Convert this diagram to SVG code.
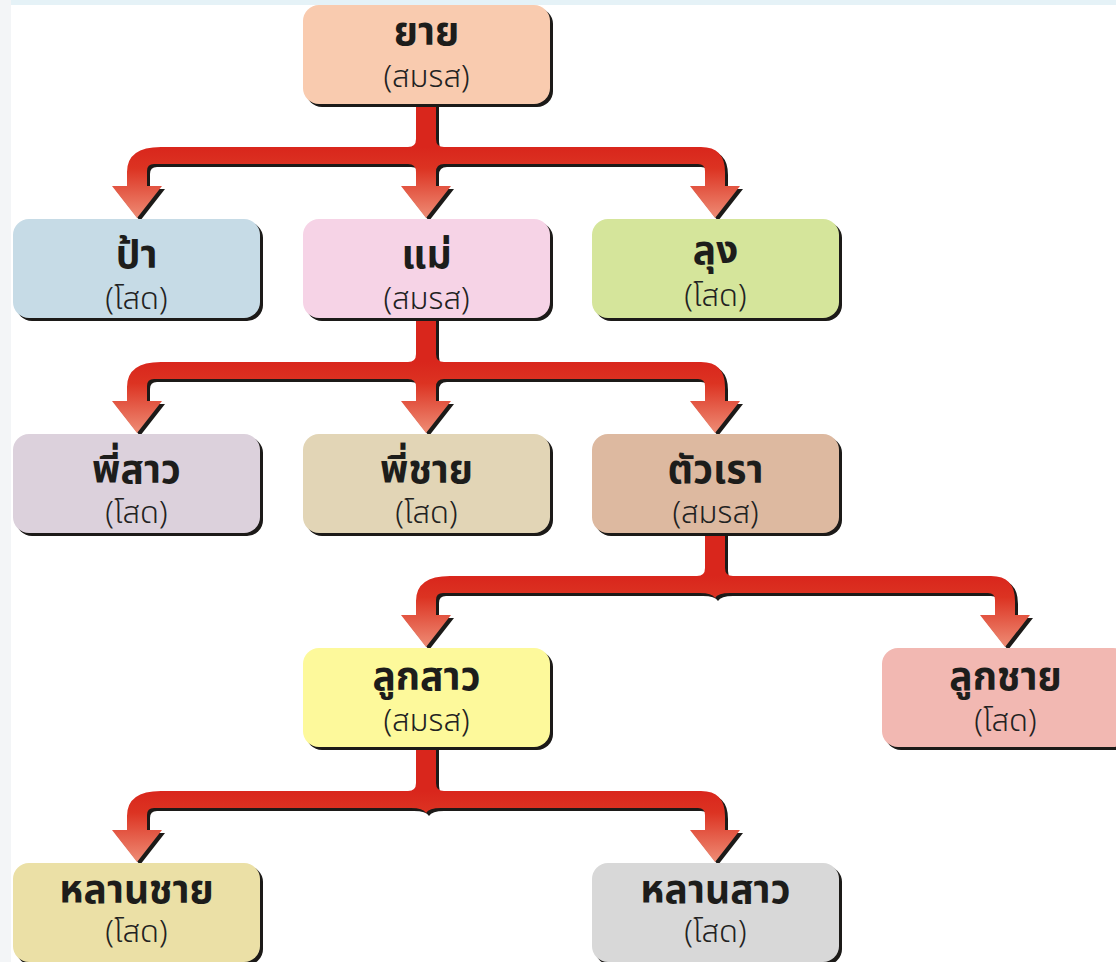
<svg xmlns="http://www.w3.org/2000/svg" width="1116" height="962" viewBox="0 0 1116 962">
<style>
.shadow{fill:#1c1a18}
.t{font-family:'Noto Sans Thai','Noto Sans','DejaVu Sans',sans-serif;font-weight:700;font-size:39px;fill:#1d1d1b;text-anchor:middle}
.s{font-family:'Noto Sans Thai','Noto Sans','DejaVu Sans',sans-serif;font-weight:300;font-size:31px;fill:#222222;text-anchor:middle}
.csh{fill:#1c1a18}
</style>
<defs>
<linearGradient id="g1" gradientUnits="userSpaceOnUse" x1="0" y1="147" x2="0" y2="218"><stop offset="0" stop-color="#d9261c"/><stop offset="0.3" stop-color="#dc3322"/><stop offset="1" stop-color="#ee8c75"/></linearGradient>
<linearGradient id="g2" gradientUnits="userSpaceOnUse" x1="0" y1="362" x2="0" y2="433"><stop offset="0" stop-color="#d9261c"/><stop offset="0.3" stop-color="#dc3322"/><stop offset="1" stop-color="#ee8c75"/></linearGradient>
<linearGradient id="g3" gradientUnits="userSpaceOnUse" x1="0" y1="576" x2="0" y2="647"><stop offset="0" stop-color="#d9261c"/><stop offset="0.3" stop-color="#dc3322"/><stop offset="1" stop-color="#ee8c75"/></linearGradient>
<linearGradient id="g4" gradientUnits="userSpaceOnUse" x1="0" y1="791" x2="0" y2="862"><stop offset="0" stop-color="#d9261c"/><stop offset="0.3" stop-color="#dc3322"/><stop offset="1" stop-color="#ee8c75"/></linearGradient>
</defs>
<rect x="0" y="0" width="1116" height="962" fill="#ffffff"/>
<rect x="0" y="0" width="1116" height="5" fill="#e5f2f7"/>
<rect x="0" y="0" width="11" height="962" fill="#f3f5f7"/>

<g id="connectors">
<g id="conn1">
<path class="csh" transform="translate(3,3)" d="M416,100 L416,139 Q416,147 408,147 L161,147 Q127,147 127,172 L127,186 L112,186 L137,218 L162,186 L147,186 L147,171 Q147,164 154,164 L408,164 Q416,164 416,172 L416,186 L401,186 L426,218 L451,186 L436,186 L436,172 Q436,164 444,164 L698,164 Q705,164 705,171 L705,186 L690,186 L715,218 L740,186 L725,186 L725,172 Q725,147 701,147 L444,147 Q436,147 436,139 L436,100 Z"/>
<path fill="url(#g1)" d="M416,100 L416,139 Q416,147 408,147 L161,147 Q127,147 127,172 L127,186 L112,186 L137,218 L162,186 L147,186 L147,171 Q147,164 154,164 L408,164 Q416,164 416,172 L416,186 L401,186 L426,218 L451,186 L436,186 L436,172 Q436,164 444,164 L698,164 Q705,164 705,171 L705,186 L690,186 L715,218 L740,186 L725,186 L725,172 Q725,147 701,147 L444,147 Q436,147 436,139 L436,100 Z"/>
</g>
<g id="conn2">
<path class="csh" transform="translate(3,3)" d="M416,314 L416,354 Q416,362 408,362 L161,362 Q127,362 127,387 L127,401 L112,401 L137,433 L162,401 L147,401 L147,386 Q147,379 154,379 L408,379 Q416,379 416,387 L416,401 L401,401 L426,433 L451,401 L436,401 L436,387 Q436,379 444,379 L698,379 Q705,379 705,386 L705,401 L690,401 L715,433 L740,401 L725,401 L725,387 Q725,362 701,362 L444,362 Q436,362 436,354 L436,314 Z"/>
<path fill="url(#g2)" d="M416,314 L416,354 Q416,362 408,362 L161,362 Q127,362 127,387 L127,401 L112,401 L137,433 L162,401 L147,401 L147,386 Q147,379 154,379 L408,379 Q416,379 416,387 L416,401 L401,401 L426,433 L451,401 L436,401 L436,387 Q436,379 444,379 L698,379 Q705,379 705,386 L705,401 L690,401 L715,433 L740,401 L725,401 L725,387 Q725,362 701,362 L444,362 Q436,362 436,354 L436,314 Z"/>
</g>
<g id="conn3">
<path class="csh" transform="translate(3,3)" d="M705,528 L705,568 Q705,576 697,576 L450,576 Q416,576 416,601 L416,615 L401,615 L426,647 L451,615 L436,615 L436,600 Q436,593 443,593 L700,593 Q712,593 715,598 Q718,593 730,593 L988,593 Q995,593 995,600 L995,615 L980,615 L1005,647 L1030,615 L1015,615 L1015,601 Q1015,576 991,576 L733,576 Q725,576 725,568 L725,528 Z"/>
<path fill="url(#g3)" d="M705,528 L705,568 Q705,576 697,576 L450,576 Q416,576 416,601 L416,615 L401,615 L426,647 L451,615 L436,615 L436,600 Q436,593 443,593 L700,593 Q712,593 715,598 Q718,593 730,593 L988,593 Q995,593 995,600 L995,615 L980,615 L1005,647 L1030,615 L1015,615 L1015,601 Q1015,576 991,576 L733,576 Q725,576 725,568 L725,528 Z"/>
</g>
<g id="conn4">
<path class="csh" transform="translate(3,3)" d="M416,743 L416,783 Q416,791 408,791 L161,791 Q127,791 127,816 L127,830 L112,830 L137,862 L162,830 L147,830 L147,815 Q147,808 154,808 L411,808 Q423,808 426,813 Q429,808 441,808 L698,808 Q705,808 705,815 L705,830 L690,830 L715,862 L740,830 L725,830 L725,816 Q725,791 701,791 L444,791 Q436,791 436,783 L436,743 Z"/>
<path fill="url(#g4)" d="M416,743 L416,783 Q416,791 408,791 L161,791 Q127,791 127,816 L127,830 L112,830 L137,862 L162,830 L147,830 L147,815 Q147,808 154,808 L411,808 Q423,808 426,813 Q429,808 441,808 L698,808 Q705,808 705,815 L705,830 L690,830 L715,862 L740,830 L725,830 L725,816 Q725,791 701,791 L444,791 Q436,791 436,783 L436,743 Z"/>
</g>
</g>

<g id="n-yai">
<rect class="shadow" x="306" y="8" width="247" height="99" rx="16"/>
<rect x="303" y="5" width="247" height="99" rx="16" fill="#f9cbaf"/>
<text class="t" x="426.5" y="45">ยาย</text>
<text class="s" x="426.5" y="87">(สมรส)</text>
</g>
<g id="n-pa">
<rect class="shadow" x="16" y="222" width="247" height="99" rx="16"/>
<rect x="13" y="219" width="247" height="99" rx="16" fill="#c6dbe6"/>
<text class="t" x="136.5" y="268">ป้า</text>
<text class="s" x="136.5" y="309">(โสด)</text>
</g>
<g id="n-mae">
<rect class="shadow" x="306" y="222" width="247" height="99" rx="16"/>
<rect x="303" y="219" width="247" height="99" rx="16" fill="#f6d3e6"/>
<text class="t" x="426.5" y="268">แม่</text>
<text class="s" x="426.5" y="309">(สมรส)</text>
</g>
<g id="n-lung">
<rect class="shadow" x="595" y="222" width="247" height="99" rx="16"/>
<rect x="592" y="219" width="247" height="99" rx="16" fill="#d5e59b"/>
<text class="t" x="715.5" y="264">ลุง</text>
<text class="s" x="715.5" y="306">(โสด)</text>
</g>
<g id="n-phisao">
<rect class="shadow" x="16" y="437" width="247" height="99" rx="16"/>
<rect x="13" y="434" width="247" height="99" rx="16" fill="#dcd1dc"/>
<text class="t" x="136.5" y="483">พี่สาว</text>
<text class="s" x="136.5" y="523">(โสด)</text>
</g>
<g id="n-phichai">
<rect class="shadow" x="306" y="437" width="247" height="99" rx="16"/>
<rect x="303" y="434" width="247" height="99" rx="16" fill="#e2d5b6"/>
<text class="t" x="426.5" y="483">พี่ชาย</text>
<text class="s" x="426.5" y="523">(โสด)</text>
</g>
<g id="n-tuarao">
<rect class="shadow" x="595" y="437" width="247" height="99" rx="16"/>
<rect x="592" y="434" width="247" height="99" rx="16" fill="#ddb9a0"/>
<text class="t" x="715.5" y="483">ตัวเรา</text>
<text class="s" x="715.5" y="523">(สมรส)</text>
</g>
<g id="n-luksao">
<rect class="shadow" x="306" y="651" width="247" height="99" rx="16"/>
<rect x="303" y="648" width="247" height="99" rx="16" fill="#fdf99b"/>
<text class="t" x="426.5" y="690">ลูกสาว</text>
<text class="s" x="426.5" y="731">(สมรส)</text>
</g>
<g id="n-lukchai">
<rect class="shadow" x="885" y="651" width="247" height="99" rx="16"/>
<rect x="882" y="648" width="247" height="99" rx="16" fill="#f2b8b2"/>
<text class="t" x="1005.5" y="690">ลูกชาย</text>
<text class="s" x="1005.5" y="731">(โสด)</text>
</g>
<g id="n-lanchai">
<rect class="shadow" x="16" y="866" width="247" height="99" rx="16"/>
<rect x="13" y="863" width="247" height="99" rx="16" fill="#ebe0a6"/>
<text class="t" x="136.5" y="903">หลานชาย</text>
<text class="s" x="136.5" y="942">(โสด)</text>
</g>
<g id="n-lansao">
<rect class="shadow" x="595" y="866" width="247" height="99" rx="16"/>
<rect x="592" y="863" width="247" height="99" rx="16" fill="#d8d8d8"/>
<text class="t" x="715.5" y="903">หลานสาว</text>
<text class="s" x="715.5" y="942">(โสด)</text>
</g>
</svg>
